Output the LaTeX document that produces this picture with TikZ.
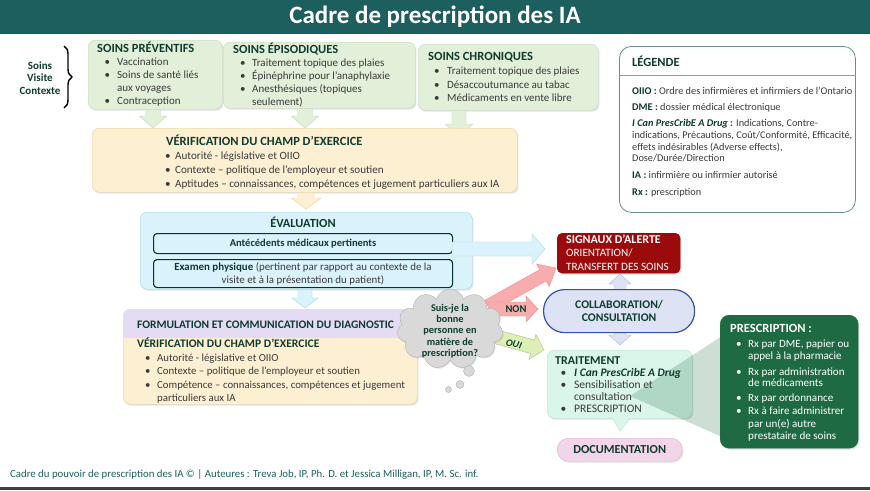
\documentclass[tikz,border=0pt]{standalone}
\usepackage{fontspec}
\setmainfont{Carlito}
\usetikzlibrary{shapes.symbols,shadows,decorations.pathreplacing}
\definecolor{teal1}{HTML}{1D5F5E}
\definecolor{hd}{HTML}{0F3B2E}
\definecolor{tx}{HTML}{3A3A3A}
\definecolor{grn}{HTML}{E2EFD9}
\definecolor{grnB}{HTML}{C3D9B3}
\definecolor{peach}{HTML}{FDF0D2}
\definecolor{peachB}{HTML}{E6D3A3}
\definecolor{blu}{HTML}{DAF2FB}
\definecolor{bluB}{HTML}{A9D6E8}
\definecolor{lav}{HTML}{E4DBF4}
\definecolor{red1}{HTML}{9B0B0B}
\definecolor{colF}{HTML}{DDE3F5}
\definecolor{colB}{HTML}{3550A8}
\definecolor{mint}{HTML}{DAF5EA}
\definecolor{mintB}{HTML}{B8E3CF}
\definecolor{pinkF}{HTML}{F3D5EA}
\definecolor{pinkB}{HTML}{E2B4D3}
\definecolor{presc}{HTML}{1E6A43}
\definecolor{cloudF}{HTML}{D9D9D9}
\definecolor{arrP}{HTML}{F7ADAD}
\definecolor{arrG}{HTML}{DCEFB5}
\newcommand\barrow[8]{%
 \pgfmathsetmacro\baang{atan2((#3)-(#5),(#4)-(#2))}%
 \pgfmathsetmacro\balen{veclen((#4)-(#2),(#5)-(#3))}%
 \pgfmathsetmacro\babase{\balen-(#8)}%
 \path[#1,shift={(#2,#3)},rotate=\baang] (0,-#6) -- (\babase,-#6) -- (\babase,-#7) -- (\balen,0) -- (\babase,#7) -- (\babase,#6) -- (0,#6) -- cycle;}
\begin{document}
\begin{tikzpicture}[x=1pt,y=-1pt,
  box/.style={rectangle, rounded corners=7pt, inner sep=0pt, anchor=north west,
     drop shadow={opacity=0.22, shadow xshift=1.2pt, shadow yshift=-1.5pt}},
  hdg/.style={anchor=base west, inner sep=0pt, font=\bfseries\fontsize{12.5}{14}\selectfont, text=hd},
  lst/.style={anchor=base west, inner sep=0pt, text=tx},
  wlst/.style={anchor=base west, inner sep=0pt, text=white}]
\useasboundingbox (0,0) rectangle (870,490);
\fill[white] (0,0) rectangle (870,490);
% title
\fill[teal1] (0,0) rectangle (870,34);
\node[text=white, font=\bfseries\fontsize{25}{28}\selectfont] (title) at (435,17) {Cadre de prescription des IA};
\fill[black!75] (0,487) rectangle (870,490);
% brace
\node[align=center, font=\bfseries\fontsize{11}{12.5}\selectfont, text=hd] (svc) at (40,78) {Soins\\Visite\\Contexte};
\draw[line width=1.4pt, decorate, decoration={brace, amplitude=8pt}] (64,46) -- (64,108);
% green boxes
\node[box, fill=grn, draw=grnB, minimum width=134, minimum height=69] (prev) at (88,40) {};
\barrow{fill=grn, draw=grnB}{153}{109.5}{153}{128}{7.5}{14}{12}
\node[hdg] (prevH) at (97,52) {SOINS PRÉVENTIFS};
\node[lst, font=\fontsize{11}{13}\selectfont] (prevL) at (104.5,65.5) {\begin{tabular}[t]{@{}p{12.5pt}@{}l@{}}\textbullet & Vaccination\\ \textbullet & Soins de santé liés\\ & aux voyages\\ \textbullet & Contraception\end{tabular}};
\node[box, fill=grn, draw=grnB, minimum width=192, minimum height=66] (epi) at (223,42) {};
\barrow{fill=grn, draw=grnB}{305}{108.5}{305}{128}{7.5}{14}{12}
\node[hdg] (epiH) at (233,53) {SOINS ÉPISODIQUES};
\node[lst, font=\fontsize{11}{13}\selectfont] (epiL) at (240,66.5) {\begin{tabular}[t]{@{}p{12pt}@{}l@{}}\textbullet & Traitement topique des plaies\\ \textbullet & Épinéphrine pour l’anaphylaxie\\ \textbullet & Anesthésiques (topiques\\ & seulement)\end{tabular}};
\node[box, fill=grn, draw=grnB, minimum width=180, minimum height=66] (chro) at (418,44) {};
\barrow{fill=grn, draw=grnB}{459}{110.5}{459}{136}{7}{14}{12}
\node[hdg] (chroH) at (428,60) {SOINS CHRONIQUES};
\node[lst, font=\fontsize{11}{13.5}\selectfont] (chroL) at (434,74.5) {\begin{tabular}[t]{@{}p{13pt}@{}l@{}}\textbullet & Traitement topique des plaies\\ \textbullet & Désaccoutumance au tabac\\ \textbullet & Médicaments en vente libre\end{tabular}};
% legend
\node[rectangle, rounded corners=12pt, draw=black!45!teal!60, line width=0.8pt, fill=white, minimum width=236, minimum height=166, anchor=north west] (leg) at (619,46) {};
\node[hdg] (legH) at (632,66.5) {LÉGENDE};
\draw[black!40!teal!50, line width=0.7pt] (leg.west |- 0,75) -- (leg.east |- 0,75);
\node[lst, font=\fontsize{10.3}{11.8}\selectfont] (legL) at (632,94.5) {\begin{tabular}[t]{@{}l@{}}
\textcolor{hd}{\textbf{OIIO :}} Ordre des infirmières et infirmiers de l’Ontario\\[4.2pt]
\textcolor{hd}{\textbf{DME :}} dossier médical électronique\\[4.2pt]
\textcolor{hd}{\textbf{\textit{I Can PresCribE A Drug}} \textbf{:}} Indications, Contre-\\
indications, Précautions, Coût/Conformité, Efficacité,\\
effets indésirables (Adverse effects),\\
Dose/Durée/Direction\\[5pt]
\textcolor{hd}{\textbf{IA :}} infirmière ou infirmier autorisé\\[5pt]
\textcolor{hd}{\textbf{Rx :}} prescription\end{tabular}};
% verification
\node[box, fill=peach, draw=peachB, minimum width=425, minimum height=64] (verif) at (92,128) {};
\barrow{fill=peach, draw=peachB}{306}{192.5}{306}{209}{8}{15}{11}
\node[hdg] (verifH) at (166,145) {VÉRIFICATION DU CHAMP D’EXERCICE};
\node[lst, font=\fontsize{11.1}{14}\selectfont] (verifL) at (165,159.5) {\begin{tabular}[t]{@{}p{10pt}@{}l@{}}\textbullet & Autorité - législative et OIIO\\ \textbullet & Contexte – politique de l’employeur et soutien\\ \textbullet & Aptitudes – connaissances, compétences et jugement particuliers aux IA\end{tabular}};
% evaluation
\node[box, fill=blu, draw=bluB, minimum width=332, minimum height=77] (eval) at (140,212) {};
\barrow{fill=blu, draw=bluB}{305}{289.5}{305}{308}{7}{13}{10}
\node[font=\bfseries\fontsize{12.4}{14}\selectfont, text=hd] (evalH) at (303,222) {ÉVALUATION};
\node[rectangle, rounded corners=3.5pt, draw=black!60!teal, line width=1.1pt, fill=blu, minimum width=299, minimum height=20, anchor=north west] (ante) at (153,233) {};
\node[font=\bfseries\fontsize{10.5}{12}\selectfont, text=hd] (anteT) at (ante.center) {Antécédents médicaux pertinents};
\node[rectangle, rounded corners=3.5pt, draw=black!60!teal, line width=1.1pt, fill=blu, minimum width=299, minimum height=28, anchor=north west] (exam) at (153,259) {};
\node[align=center, font=\fontsize{10.9}{13}\selectfont, text=tx] (examT) at (303,274) {\textcolor{hd}{\textbf{Examen physique}} (pertinent par rapport au contexte de la\\visite et à la présentation du patient)};
\barrow{fill=blu, draw=bluB}{452}{249}{545}{249}{7}{15}{13}
% formulation
\node[box, fill=peach, draw=peachB, minimum width=294, minimum height=95] (form) at (123,309) {};
\begin{scope}
\clip (115,300) rectangle (425,337);
\fill[lav, rounded corners=7pt] (123,309) rectangle (417,404);
\end{scope}
\node[hdg, font=\bfseries\fontsize{11.5}{13}\selectfont] (formH) at (137,328) {FORMULATION ET COMMUNICATION DU DIAGNOSTIC};
\node[hdg, font=\bfseries\fontsize{11.6}{13}\selectfont] (form2H) at (137,347.5) {VÉRIFICATION DU CHAMP D’EXERCICE};
\node[lst, font=\fontsize{10.8}{13.5}\selectfont] (formL) at (145,361) {\begin{tabular}[t]{@{}p{12pt}@{}l@{}}\textbullet & Autorité - législative et OIIO\\ \textbullet & Contexte – politique de l’employeur et soutien\\ \textbullet & Compétence – connaissances, compétences et jugement\\ & particuliers aux IA\end{tabular}};
% decision arrows
\barrow{fill=arrP, draw=arrP!80!red}{488}{306}{556}{268}{6.5}{13}{15}
\barrow{fill=arrP, draw=arrP!80!red}{488}{309}{538}{309}{7}{13}{12}
\node[font=\bfseries\fontsize{10.5}{12}\selectfont, text=hd] (non) at (516,309) {NON};
\barrow{fill=arrG, draw=arrG!80!black}{486}{334}{544}{350}{7}{13}{12}
\node[rotate=-15, font=\bfseries\itshape\fontsize{10}{11}\selectfont, text=hd] (oui) at (514,344) {OUI};
% cloud
\node[cloud, cloud puffs=11, cloud ignores aspect, fill=cloudF, draw=black!30, minimum width=106, minimum height=80,
  drop shadow={opacity=0.2, shadow xshift=1pt, shadow yshift=-1.2pt}] (cloud) at (450,329) {};
\node[align=center, font=\bfseries\fontsize{10.3}{11.3}\selectfont, text=hd] (cloudT) at (450,331) {Suis-je la\\bonne\\personne en\\matière de\\prescription?};
\draw[fill=cloudF, draw=black!30] (469,371) circle (5.5);
\draw[fill=cloudF, draw=black!30] (460,384.5) circle (4);
\draw[fill=cloudF, draw=black!30] (448.5,389.5) circle (3);
% collaboration
\barrow{fill=colF, draw=colF!70!colB}{620}{312}{620}{274}{6}{11}{10}
\barrow{fill=colF, draw=colF!70!colB}{620}{312}{620}{345}{6}{11}{10}
\node[rectangle, rounded corners=21pt, fill=colF, draw=colB, line width=1.2pt, minimum width=151, minimum height=43, anchor=north west] (collab) at (543,289) {};
\node[align=center, font=\bfseries\fontsize{11.7}{12.5}\selectfont, text=hd] (collabT) at (collab.center) {COLLABORATION/\\CONSULTATION};
% signaux
\node[box, fill=red1, draw=red1, rounded corners=5pt, minimum width=123, minimum height=40] (sig) at (557,233) {};
\node[wlst, font=\fontsize{11.2}{13.5}\selectfont] (sigT) at (566,243) {\begin{tabular}[t]{@{}l@{}}\fontsize{12}{13.5}\selectfont\textbf{SIGNAUX D’ALERTE}\\ORIENTATION/\\TRANSFERT DES SOINS\end{tabular}};
% traitement
\node[box, fill=mint, draw=mintB, minimum width=145, minimum height=68] (trait) at (547,350) {};
\path[fill=mint, draw=mintB] (612,417.3) -- (620,431) -- (631,417.3);
\fill[mint] (611,415) rectangle (632,417.6);
\node[hdg, font=\bfseries\fontsize{12}{13}\selectfont] (traitH) at (555,364) {TRAITEMENT};
\node[lst, font=\fontsize{11.5}{12}\selectfont] (traitL) at (560.5,376.5) {\begin{tabular}[t]{@{}p{13.5pt}@{}l@{}}\textbullet & \textcolor{hd}{\textbf{\textit{I Can PresCribE A Drug}}}\\ \textbullet & Sensibilisation et\\ & consultation\\ \textbullet & PRESCRIPTION\end{tabular}};
% wedge
\fill[presc, opacity=0.22] (630,396) -- (722,336) -- (722,437) -- cycle;
% prescription
\node[box, fill=presc, draw=presc, rounded corners=9pt, minimum width=138, minimum height=133] (presc) at (720,315) {};
\node[anchor=base west, inner sep=0pt, font=\bfseries\fontsize{12.5}{14}\selectfont, text=white] (prescH) at (730,332) {PRESCRIPTION :};
\node[wlst, font=\fontsize{11.1}{12}\selectfont] (prescL) at (736,347) {\begin{tabular}[t]{@{}p{12pt}@{}l@{}}\textbullet & Rx par DME, papier ou\\ & appel à la pharmacie\\[4pt] \textbullet & Rx par administration\\[-1pt] & de médicaments\\[3pt] \textbullet & Rx par ordonnance\\[1pt] \textbullet & Rx à faire administrer\\[1pt] & par un(e) autre\\ & prestataire de soins\end{tabular}};
% documentation
\node[box, fill=pinkF, draw=pinkB, rounded corners=11pt, minimum width=125, minimum height=23] (doc) at (557,438) {};
\node[font=\bfseries\fontsize{12.3}{13}\selectfont, text=hd] (docT) at (doc.center) {DOCUMENTATION};
% footer
\node[anchor=base west, inner sep=0pt, font=\fontsize{10.8}{12}\selectfont, text=teal1] (foot) at (10,477.5) {Cadre du pouvoir de prescription des IA © | Auteures : Treva Job, IP, Ph. D. et Jessica Milligan, IP, M. Sc. inf.};
\end{tikzpicture}
\end{document}
